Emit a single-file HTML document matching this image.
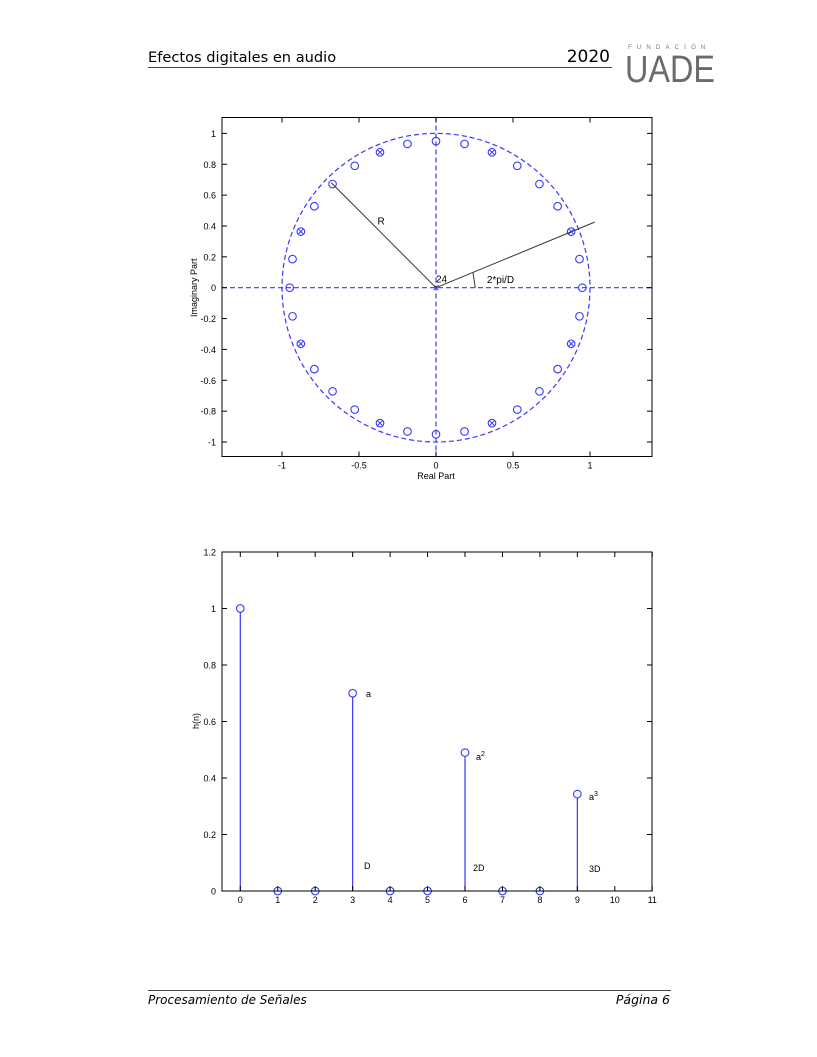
<!DOCTYPE html>
<html><head><meta charset="utf-8"><style>
body{margin:0;background:#fff;}
svg{display:block;}
</style></head><body>
<svg id="s" width="817" height="1057" xmlns="http://www.w3.org/2000/svg" font-family="Liberation Sans, sans-serif">
<rect width="817" height="1057" fill="#fff"/>
<text x="148" y="62" font-family="DejaVu Sans, sans-serif" font-size="14.6" fill="#000">Efectos digitales en audio</text>
<text x="610" y="62" text-anchor="end" font-family="DejaVu Sans, sans-serif" font-size="17" fill="#000">2020</text>
<line x1="148" y1="67.5" x2="612" y2="67.5" stroke="#444" stroke-width="1"/>
<text x="628" y="49" font-size="6" fill="#777" letter-spacing="5.2">FUNDACIÓN</text>
<text x="625" y="82" font-size="36" fill="#6b6b6b" transform="translate(625 82) scale(1 1.05) translate(-625 -82)" textLength="90" lengthAdjust="spacingAndGlyphs">UADE</text>
<line x1="148" y1="990.5" x2="671" y2="990.5" stroke="#444" stroke-width="1"/>
<text x="148" y="1004" font-family="DejaVu Sans, sans-serif" font-style="italic" font-size="12" fill="#000">Procesamiento de Señales</text>
<text x="670" y="1004" text-anchor="end" font-family="DejaVu Sans, sans-serif" font-style="italic" font-size="12.5" fill="#000">Página 6</text>
<g id="g1"></g>
<g id="g2"></g>
</svg>
<script>
const NS="http://www.w3.org/2000/svg";
function el(p,t,a,txt){const e=document.createElementNS(NS,t);for(const k in a)e.setAttribute(k,a[k]);if(txt!==undefined)e.textContent=txt;p.appendChild(e);return e;}
const g1=document.getElementById('g1');
const L=222,R=652,T=117.5,B=456.5,cx=436,cy=287.7,sx=154,sy=154.3;
const X=v=>cx+v*sx, Y=v=>cy-v*sy;
const blue="#3838ff";
el(g1,'line',{x1:L,y1:cy,x2:R,y2:cy,stroke:blue,'stroke-dasharray':'5 3','stroke-width':1.2});
el(g1,'line',{x1:cx,y1:T,x2:cx,y2:B,stroke:blue,'stroke-dasharray':'5 3','stroke-width':1.2});
el(g1,'ellipse',{cx:cx,cy:cy,rx:sx,ry:sy,fill:'none',stroke:blue,'stroke-dasharray':'5 3','stroke-width':1.2});
for(let k=0;k<32;k++){const a=k*Math.PI/16;const x=X(0.95*Math.cos(a)),y=Y(0.95*Math.sin(a));
el(g1,'circle',{cx:x,cy:y,r:3.8,fill:'none',stroke:blue,'stroke-width':1.1});
if(k%4==2){el(g1,'path',{d:`M${x-2.3} ${y-2.3}L${x+2.3} ${y+2.3}M${x-2.3} ${y+2.3}L${x+2.3} ${y-2.3}`,stroke:blue,'stroke-width':1});}}
el(g1,'path',{d:`M${cx-2.5} ${cy-2.5}L${cx+2.5} ${cy+2.5}M${cx-2.5} ${cy+2.5}L${cx+2.5} ${cy-2.5}`,stroke:blue,'stroke-width':1});
el(g1,'line',{x1:cx,y1:cy,x2:X(-0.68),y2:Y(0.68),stroke:'#333','stroke-width':1});
el(g1,'line',{x1:cx,y1:cy,x2:X(1.03),y2:Y(0.425),stroke:'#333','stroke-width':1});
el(g1,'line',{x1:X(0.24),y1:Y(0.1),x2:X(0.255),y2:cy,stroke:'#333','stroke-width':1});
el(g1,'text',{x:X(-0.38),y:Y(0.41),'font-size':10},'R');
el(g1,'text',{x:cx,y:cy-5,'font-size':10},'24');
el(g1,'text',{x:X(0.33),y:Y(0.03),'font-size':10},'2*pi/D');
el(g1,'rect',{x:L,y:T,width:R-L,height:B-T,fill:'none',stroke:'#000','stroke-width':1});
for(let i=-5;i<=5;i++){const v=i/5,y=Y(v);
el(g1,'line',{x1:L,y1:y,x2:L+5,y2:y,stroke:'#000'});el(g1,'line',{x1:R,y1:y,x2:R-5,y2:y,stroke:'#000'});
el(g1,'text',{x:L-6,y:y+3.5,'font-size':9,'text-anchor':'end'},i==0?'0':(+v.toFixed(1)).toString());}
for(const v of [-1,-0.5,0,0.5,1]){const x=X(v);
el(g1,'line',{x1:x,y1:B,x2:x,y2:B-5,stroke:'#000'});el(g1,'line',{x1:x,y1:T,x2:x,y2:T+5,stroke:'#000'});
el(g1,'text',{x:x,y:B+12,'font-size':9,'text-anchor':'middle'},String(v));}
el(g1,'text',{x:cx,y:479,'font-size':9,'text-anchor':'middle'},'Real Part');
el(g1,'text',{x:0,y:0,'font-size':9,'text-anchor':'middle',transform:`translate(197 ${cy}) rotate(-90)`},'Imaginary Part');
const g2=document.getElementById('g2');
const L2=222,R2=652,T2=552,B2=891,x0=240.3,dx=37.45,ys=282.5;
const X2=v=>x0+v*dx,Y2=v=>B2-v*ys;
const data=[1,0,0,0.7,0,0,0.49,0,0,0.343];
data.forEach((v,i)=>{const x=X2(i),y=Y2(v);
if(v>0)el(g2,'line',{x1:x,y1:B2,x2:x,y2:y+3.8,stroke:blue,'stroke-width':1.2});
el(g2,'circle',{cx:x,cy:y,r:3.8,fill:'none',stroke:blue,'stroke-width':1.1});});
el(g2,'rect',{x:L2,y:T2,width:R2-L2,height:B2-T2,fill:'none',stroke:'#000','stroke-width':1});
for(let i=0;i<=6;i++){const v=i*0.2,y=Y2(v);
el(g2,'line',{x1:L2,y1:y,x2:L2+5,y2:y,stroke:'#000'});el(g2,'line',{x1:R2,y1:y,x2:R2-5,y2:y,stroke:'#000'});
el(g2,'text',{x:L2-6,y:y+3.5,'font-size':9,'text-anchor':'end'},i==0?'0':(+v.toFixed(1)).toString());}
for(let i=0;i<=11;i++){const x=X2(i);
el(g2,'line',{x1:x,y1:B2,x2:x,y2:B2-5,stroke:'#000'});el(g2,'line',{x1:x,y1:T2,x2:x,y2:T2+5,stroke:'#000'});
el(g2,'text',{x:x,y:B2+12,'font-size':9,'text-anchor':'middle'},String(i));}
el(g2,'text',{x:0,y:0,'font-size':9,'text-anchor':'middle',transform:`translate(199 721) rotate(-90)`},'h(n)');
el(g2,'text',{x:366,y:697,'font-size':9},'a');
const t2=el(g2,'text',{x:476,y:760,'font-size':9},'a');el(t2,'tspan',{dy:-4,'font-size':7},'2');
const t3=el(g2,'text',{x:589,y:800,'font-size':9},'a');el(t3,'tspan',{dy:-4,'font-size':7},'3');
el(g2,'text',{x:364,y:869,'font-size':9},'D');
el(g2,'text',{x:473,y:871,'font-size':9},'2D');
el(g2,'text',{x:589,y:872,'font-size':9},'3D');
</script>
</body></html>
